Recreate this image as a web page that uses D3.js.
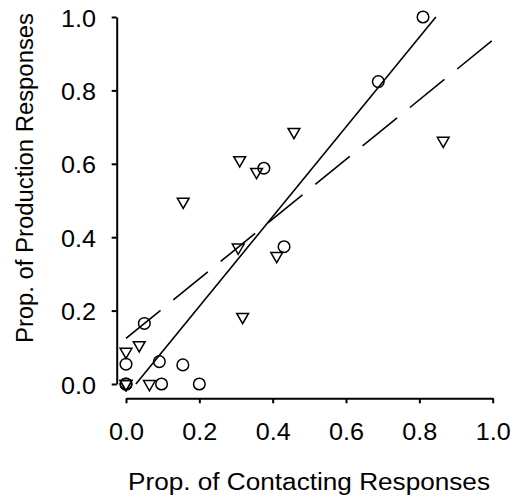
<!DOCTYPE html>
<html>
<head>
<meta charset="utf-8">
<script src="https://cdn.jsdelivr.net/npm/d3@7"></script>
<style>
  body { margin: 0; background: #fff; }
  text { font-family: Arial, "Liberation Sans", sans-serif; fill: #000; }
</style>
</head>
<body>
<script>
// circles
var circleX = [0.81, 0.688, 0.376, 0.431, 0.05, 0.0, 0.091, 0.155, 0.0, 0.097, 0.2, 0.0];
var circleY = [1.0, 0.824, 0.588, 0.374, 0.165, 0.054, 0.061, 0.052, 0.0, 0.0, 0.0, 0.0];
// triangles
var triX = [0.31, 0.356, 0.156, 0.306, 0.411, 0.318, 0.458, 0.865, 0.036, 0.0, 0.0, 0.0, 0.064];
var triY = [0.61, 0.578, 0.497, 0.372, 0.349, 0.183, 0.687, 0.663, 0.106, 0.088, 0.0, 0.0, 0.0];
// fit lines (end points)
var solidLine = [[0.027, 0.0], [0.845, 1.0]];
var dashedLine = [[0.0, 0.124], [1.0, 0.937]];
var ticks = [0, 0.2, 0.4, 0.6, 0.8, 1.0];

var w = 513, h = 499;
var fmt = d3.format(".1f");

var svg = d3.select('body').append('svg')
  .attr('width', w)
  .attr('height', h);

var xScale = d3.scaleLinear().domain([0, 1]).range([126, 492.7]);
var yScale = d3.scaleLinear().domain([0, 1]).range([384, 17]);

// axes
var xAxis = d3.axisBottom(xScale).tickValues(ticks).tickFormat(fmt)
  .tickSize(5).tickSizeOuter(0).tickPadding(19.5);
var yAxis = d3.axisLeft(yScale).tickValues(ticks).tickFormat(fmt)
  .tickSize(5).tickSizeOuter(0).tickPadding(15.7);

var gx = svg.append('g')
  .attr('transform', 'translate(0,398.3)')
  .call(xAxis);
var gy = svg.append('g')
  .attr('transform', 'translate(116.7,0)')
  .call(yAxis);

[gx, gy].forEach(function(g) {
  g.select('.domain').attr('stroke', '#000').attr('stroke-width', 2);
  g.selectAll('.tick line').attr('stroke', '#000').attr('stroke-width', 2);
  g.selectAll('.tick text')
    .attr('font-size', 24)
    .attr('font-family', 'Arial, "Liberation Sans", sans-serif')
    .attr('fill', '#000')
    .attr('textLength', 35)
    .attr('lengthAdjust', 'spacingAndGlyphs');
});
gy.selectAll('.tick text').attr('dy', '0.38em');

// titles
svg.append('text')
  .attr('x', 309).attr('y', 490)
  .attr('text-anchor', 'middle')
  .attr('font-size', 23.5)
  .attr('textLength', 362)
  .attr('lengthAdjust', 'spacingAndGlyphs')
  .text('Prop. of Contacting Responses');

svg.append('text')
  .attr('transform', 'translate(33,178) rotate(-90)')
  .attr('text-anchor', 'middle')
  .attr('font-size', 23.5)
  .attr('textLength', 330)
  .attr('lengthAdjust', 'spacingAndGlyphs')
  .text('Prop. of Production Responses');

// lines
var line = d3.line().x(d => xScale(d[0])).y(d => yScale(d[1]));

svg.append('path')
  .attr('d', line(solidLine))
  .attr('fill', 'none')
  .attr('stroke', '#000')
  .attr('stroke-width', 1.6);

svg.append('path')
  .attr('d', line(dashedLine))
  .attr('fill', 'none')
  .attr('stroke', '#000')
  .attr('stroke-width', 1.6)
  .attr('stroke-dasharray', '44.5,16.5');

// markers
var circles = circleX.map((x, i) => [x, circleY[i]]);
var tris = triX.map((x, i) => [x, triY[i]]);

svg.selectAll('circle.pt')
  .data(circles)
  .enter()
  .append('circle')
  .attr('class', 'pt')
  .attr('cx', d => xScale(d[0]))
  .attr('cy', d => yScale(d[1]))
  .attr('r', 5.8)
  .attr('fill', 'none')
  .attr('stroke', '#000')
  .attr('stroke-width', 1.5);

var tri = d3.symbol().type(d3.symbolTriangle).size(60);
svg.selectAll('path.tri')
  .data(tris)
  .enter()
  .append('path')
  .attr('class', 'tri')
  .attr('d', tri)
  .attr('transform', d => `translate(${xScale(d[0])},${yScale(d[1])}) rotate(180)`)
  .attr('fill', 'none')
  .attr('stroke', '#000')
  .attr('stroke-width', 1.5);
</script>
</body>
</html>
